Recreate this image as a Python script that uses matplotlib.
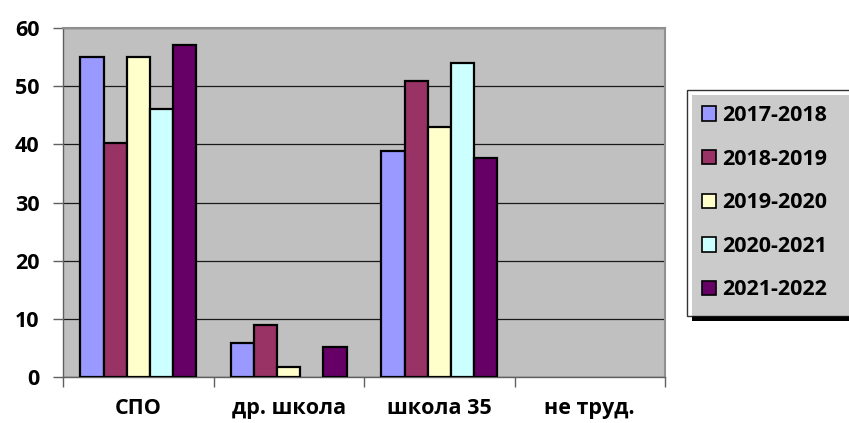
import numpy as np
import matplotlib
matplotlib.use("Agg")
import matplotlib.pyplot as plt
from matplotlib.patches import Rectangle

plt.rcParams['font.family'] = ['Open Sans', 'DejaVu Sans']
plt.rcParams['font.weight'] = 'bold'

categories = ['СПО', 'др. школа', 'школа 35', 'не труд.']
years = ['2017-2018', '2018-2019', '2019-2020', '2020-2021', '2021-2022']
values = {
    '2017-2018': [55.0, 5.8, 38.8, 0],
    '2018-2019': [40.3, 9.0, 50.9, 0],
    '2019-2020': [55.0, 1.7, 43.0, 0],
    '2020-2021': [46.1, 0, 53.9, 0],
    '2021-2022': [57.1, 5.1, 37.7, 0],
}
colors = ['#9999FF', '#993366', '#FFFFCC', '#CCFFFF', '#660066']
yticks = [0, 10, 20, 30, 40, 50, 60]

fig = plt.figure(figsize=(8.49, 4.23), dpi=100)
ax = fig.add_axes([63/849, 1-377/423, 602/849, 349/423])
ax.set_facecolor('#C0C0C0')

x = np.arange(len(categories))
w = 1/6.5
for i, yr in enumerate(years):
    vals = np.array(values[yr])
    # zero-height bars are not drawn in the reference
    mask = vals > 0
    ax.bar(x[mask] + (i-2)*w, vals[mask], width=w, color=colors[i],
           edgecolor='black', linewidth=1.6, label=yr, zorder=3)

ax.set_xlim(-0.5, 3.5)
ax.set_ylim(0, 60)
ax.set_yticks(yticks)
ax.set_yticklabels([str(t) for t in yticks], fontsize=15.5, fontweight='bold')
ax.yaxis.grid(True, color='#1a1a1a', linewidth=0.9, zorder=1)
ax.set_axisbelow(True)

ax.set_xticks(x)
ax.set_xticklabels(categories, fontsize=15.5, fontweight='bold')
ax.set_xticks(np.arange(-0.5, 4.0, 1.0), minor=True)
ax.tick_params(axis='x', which='major', length=0, pad=15)
ax.tick_params(axis='x', which='minor', length=7, color='#606060', width=1)
ax.tick_params(axis='y', length=7, color='#606060', width=1, pad=10)

for s in ['left', 'bottom']:
    ax.spines[s].set_color('#606060')
    ax.spines[s].set_linewidth(1)
for s in ['top', 'right']:
    ax.spines[s].set_color('#909090')
    ax.spines[s].set_linewidth(1.5)

leg = fig.legend(loc='upper left', bbox_to_anchor=(687/849, 0, 240/849, 1-90/423),
                 mode='expand',
                 fontsize=15.5, frameon=True, fancybox=False, edgecolor='black',
                 handlelength=0.65, handleheight=0.65, handletextpad=0.3,
                 labelspacing=1.05, borderpad=0.7, borderaxespad=0)
leg.get_frame().set_linewidth(1)
leg.set_zorder(5)
for h in leg.legend_handles:
    h.set_linewidth(1.2)

fig.canvas.draw()
bb = leg.get_window_extent().transformed(fig.transFigure.inverted())
shadow = Rectangle((bb.x0 + 5/849, bb.y0 - 5/423), 1, bb.height,
                   transform=fig.transFigure, facecolor='black',
                   edgecolor='none', zorder=4)
fig.patches.append(shadow)

fig.savefig('out.png', dpi=100, facecolor='white')
